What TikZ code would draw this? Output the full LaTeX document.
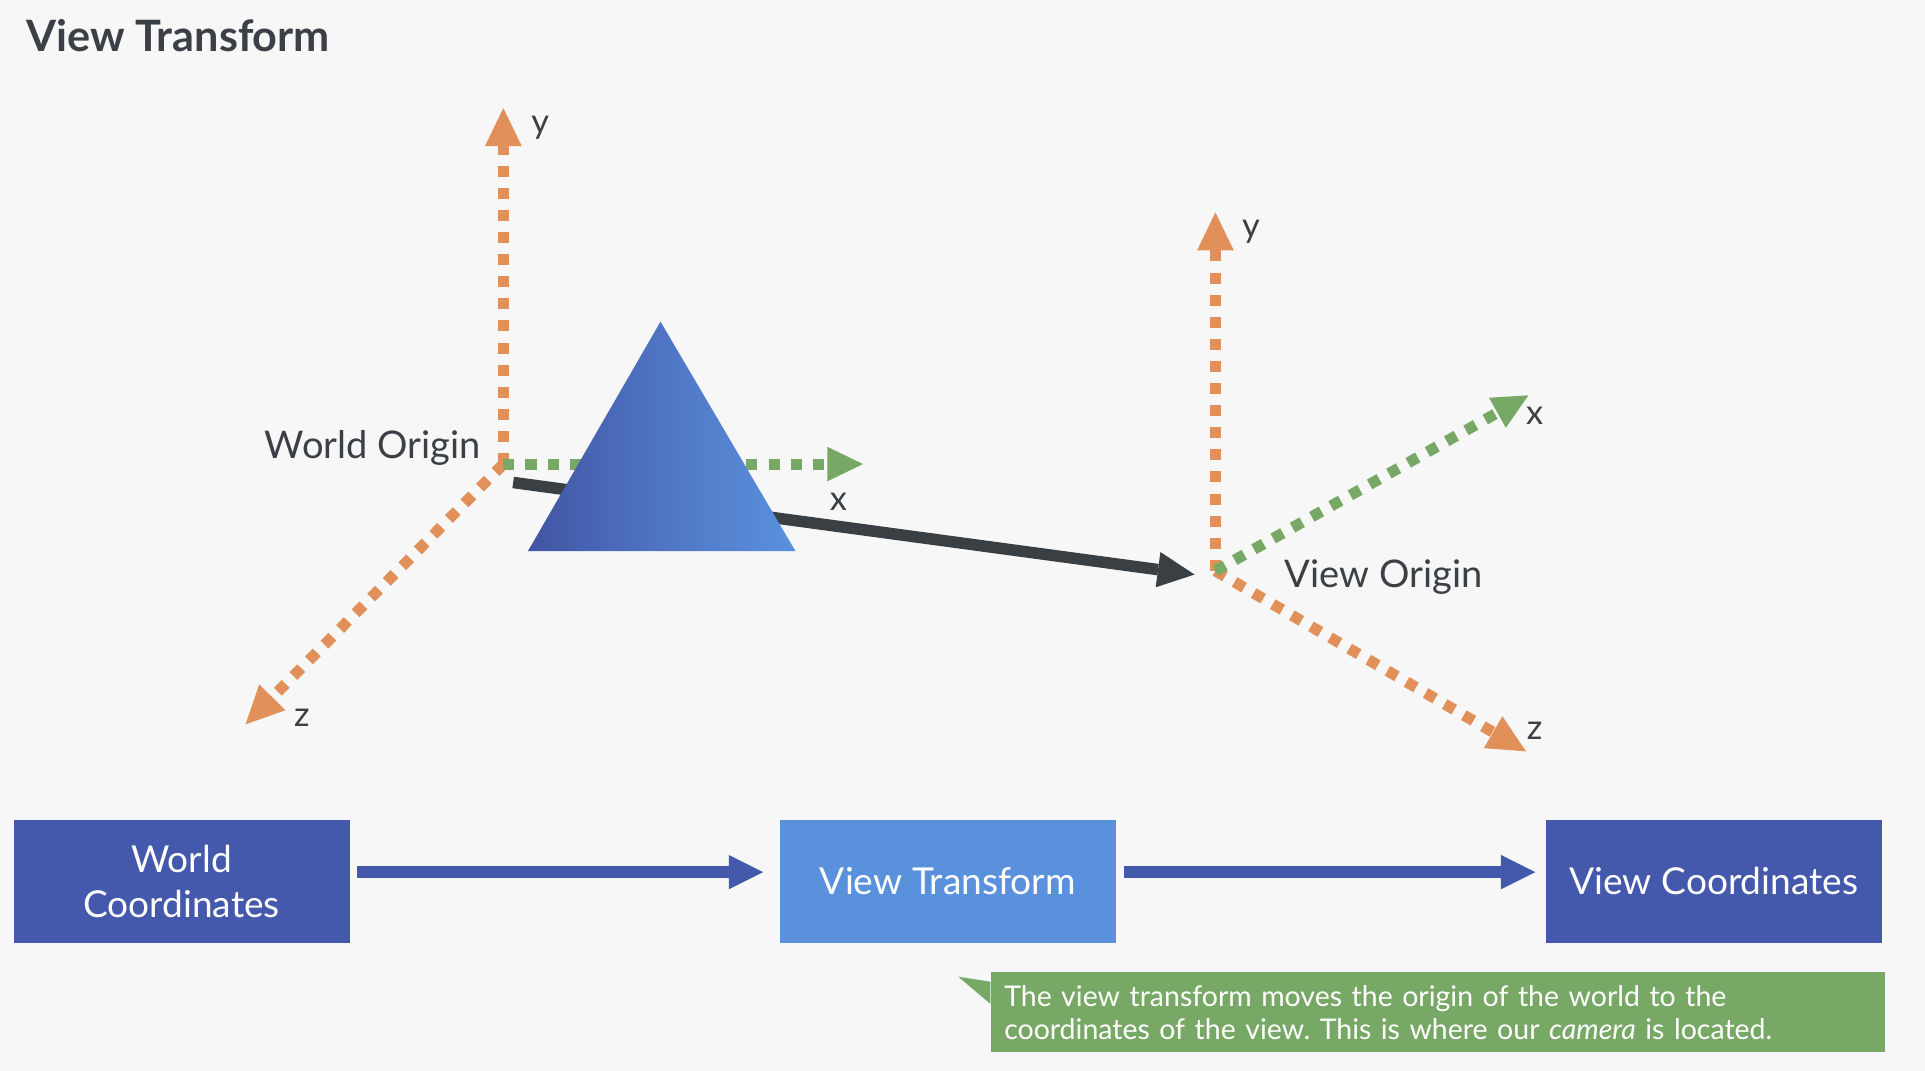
\documentclass[tikz,border=0pt]{standalone}
\usepackage{fontspec}
\setmainfont{Lato}
\usetikzlibrary{arrows.meta,calc}
\definecolor{bgc}{HTML}{F7F7F7}
\definecolor{txtdark}{HTML}{3B4046}
\definecolor{axorange}{HTML}{E09058}
\definecolor{axgreen}{HTML}{78A865}
\definecolor{darkblue}{HTML}{4459AB}
\definecolor{lightblue}{HTML}{5A91DD}
\definecolor{arrowdark}{HTML}{3A3F44}
\frenchspacing
\begin{document}
\begin{tikzpicture}[x=0.5pt,y=-0.5pt,
  orangeaxis/.style={draw=axorange, line width=4.5pt, dash pattern=on 4.5pt off 4.5pt,
    -{Triangle[length=15.5pt,width=15pt,line width=0pt]}},
  greenaxis/.style={draw=axgreen, line width=4.5pt, dash pattern=on 4.5pt off 4.5pt,
    -{Triangle[length=14.5pt,width=14pt,line width=0pt]}},
  movearrow/.style={draw=arrowdark, line width=4.7pt,
    -{Triangle[length=15pt,width=14.5pt,line width=0pt]}},
  flowarrow/.style={draw=darkblue, line width=5pt,
    -{Triangle[length=14pt,width=14pt,line width=0pt]}},
  axlabel/.style={text=txtdark, font=\fontsize{14}{16}\selectfont, inner sep=0pt},
  originlabel/.style={text=txtdark, font=\fontsize{15.5}{17}\selectfont, inner sep=0pt},
  flowbox/.style={fill=#1, text=white, minimum width=137pt, minimum height=50pt,
    inner sep=0pt, align=center, font=\fontsize{15.1}{18}\selectfont},
  notebox/.style={fill=axgreen, text=white, minimum width=364pt, minimum height=32.5pt,
    inner xsep=5.5pt, inner ysep=3pt, text width=353pt, align=left, font=\fontsize{11.6}{13.5}\selectfont}
]
\useasboundingbox (0,0) rectangle (1568,872);
\fill[bgc] (0,0) rectangle (1568,872);

% title
\node[anchor=base west, inner sep=0pt, text=txtdark, font=\fontsize{17.6}{20}\selectfont\bfseries] (title) at (21,42) {View Transform};

% world axes
\coordinate (wo) at (410,378);
\coordinate (wy) at (410,88);
\coordinate (wx) at (703,378);
\coordinate (wz) at (200,590);
\draw[orangeaxis] (wo) -- (wy);
\draw[orangeaxis] (wo) -- (wz);
\draw[greenaxis] (wo) -- (wx);
\node[axlabel] (wylab) at (440,104) {y};
\node[axlabel] (wxlab) at (683,409) {x};
\node[axlabel] (wzlab) at (246,585) {z};
\node[originlabel, anchor=east] (wolab) at (392,365) {World Origin};

% view axes
\coordinate (vo) at (990,465);
\coordinate (vy) at (990,173);
\coordinate (vx) at (1245,322);
\coordinate (vz) at (1243,612);
\draw[orangeaxis] (vo) -- (vy);
\draw[orangeaxis] (vo) -- (vz);
\draw[greenaxis] (vo) -- (vx);
\node[axlabel] (vylab) at (1019,189) {y};
\node[axlabel] (vxlab) at (1250,339) {x};
\node[axlabel] (vzlab) at (1250,595) {z};
\node[originlabel, anchor=west] (volab) at (1046,470) {View Origin};

% movement arrow
\coordinate (mstart) at (418,393);
\coordinate (mend) at (973,468);
\draw[movearrow] (mstart) -- (mend);

% triangle object
\shade[left color=darkblue!95!black, right color=lightblue, middle color=darkblue!50!lightblue]
  (430,449) -- (538,262) -- (648,449) -- cycle;

% flow boxes
\node[flowbox=darkblue] (wc) at (148,718) {World\\Coordinates};
\node[flowbox=lightblue] (vt) at (772,718) {View Transform};
\node[flowbox=darkblue] (vc) at (1396,718) {View Coordinates};
\draw[flowarrow, shorten <=2.5pt, shorten >=6.5pt] ([yshift=3.8pt]wc.east) -- ([yshift=3.8pt]vt.west);
\draw[flowarrow, shorten <=3pt, shorten >=4pt] ([yshift=3.8pt]vt.east) -- ([yshift=3.8pt]vc.west);

% note
\node[notebox] (note) at (1171,824.5) {The view transform moves the origin of the world to the\\coordinates of the view. This is where our \textit{camera} is located.};
\fill[axgreen] ($(note.north west)+(-26,4)$) -- ($(note.north west)+(0,8)$) -- ($(note.north west)+(0,26)$) -- cycle;
\end{tikzpicture}
\end{document}
